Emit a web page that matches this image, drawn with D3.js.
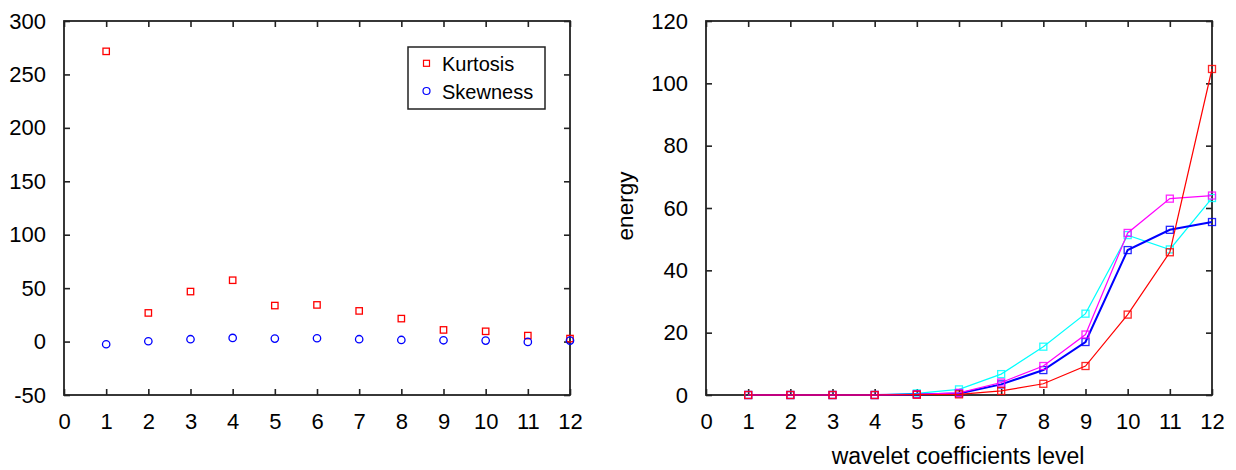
<!DOCTYPE html>
<html>
<head>
<meta charset="utf-8">
<script src="https://cdn.jsdelivr.net/npm/d3@7"></script>
<style>
  body { margin: 0; background: #fff; }
  svg text { font-family: "Liberation Sans", Arial, sans-serif; fill: #000; }
</style>
</head>
<body>
<div id="chart"></div>
<script>
// levels on the x axis
const levels = [1, 2, 3, 4, 5, 6, 7, 8, 9, 10, 11, 12];

// left panel: kurtosis and skewness per level
const kurtosis = [271.6, 26.8, 46.8, 57.4, 33.7, 34.3, 28.7, 21.5, 10.9, 9.6, 5.6, 2.8];
const skewness = [-2.5, 0.3, 2.2, 3.4, 2.8, 3.1, 2.2, 1.5, 1.2, 0.9, -0.3, 0.9];

// right panel: energy per level, four series
const energyCyan    = [0, 0, 0, 0, 0.5, 1.8, 6.7, 15.5, 26.1, 51.3, 46.7, 63.2];
const energyBlue    = [0, 0, 0, 0, 0.2, 0.5, 3.4, 8.0, 17.0, 46.5, 53.0, 55.5];
const energyMagenta = [0, 0, 0, 0, 0.2, 0.7, 4.0, 9.3, 19.4, 52.0, 63.0, 64.0];
const energyRed     = [0, 0, 0, 0, 0.1, 0.2, 1.3, 3.6, 9.3, 25.8, 45.8, 104.6];

const leftTicksY = [-50, 0, 50, 100, 150, 200, 250, 300];
const rightTicksY = [0, 20, 40, 60, 80, 100, 120];
const ticksX = d3.range(0, 13);

const W = 1236, H = 470;
const svg = d3.select("#chart").append("svg")
    .attr("width", W)
    .attr("height", H);

svg.append("rect").attr("width", W).attr("height", H).attr("fill", "#fff");

const tickFont = 22;
const frameColor = "#222";

// draws the boxed frame with inward ticks on all four sides
function frame(g, x, y, yTicks, w, h) {
  g.append("g")
      .call(d3.axisLeft(y).tickValues(yTicks).tickSize(-6).tickPadding(18)
        .tickSizeOuter(0).tickFormat(d => String(d)));
  g.append("g")
      .attr("transform", `translate(0,${h})`)
      .call(d3.axisBottom(x).tickValues(ticksX).tickSize(-6).tickPadding(18)
        .tickSizeOuter(0).tickFormat(d => String(d)));
  g.append("g")
      .call(d3.axisTop(x).tickValues(ticksX).tickSize(-6).tickFormat("").tickSizeOuter(0));
  g.append("g")
      .attr("transform", `translate(${w},0)`)
      .call(d3.axisRight(y).tickValues(yTicks).tickSize(-6).tickFormat("").tickSizeOuter(0));

  g.selectAll(".domain").remove();
  g.selectAll(".tick line").attr("stroke", frameColor).attr("stroke-width", 1.6);
  g.selectAll(".tick text")
      .attr("font-size", tickFont)
      .attr("font-family", "Liberation Sans, Arial, sans-serif")
      .attr("fill", "#000");

  g.append("rect")
      .attr("width", w).attr("height", h)
      .attr("fill", "none")
      .attr("stroke", frameColor)
      .attr("stroke-width", 1.8);
}

// ---------------- left panel ----------------
const m1 = {left: 64, top: 21, right: 570, bottom: 395};
const w1 = m1.right - m1.left, h1 = m1.bottom - m1.top;
const x1 = d3.scaleLinear().domain([0, 12]).range([0, w1]);
const y1 = d3.scaleLinear().domain([-50, 300]).range([h1, 0]);

const g1 = svg.append("g").attr("transform", `translate(${m1.left},${m1.top})`);
frame(g1, x1, y1, leftTicksY, w1, h1);

const sq1 = 6.4;
g1.selectAll(".kurt")
  .data(levels)
  .enter().append("rect")
    .attr("class", "kurt")
    .attr("x", (d, i) => x1(d) - sq1 / 2)
    .attr("y", (d, i) => y1(kurtosis[i]) - sq1 / 2)
    .attr("width", sq1).attr("height", sq1)
    .attr("fill", "none").attr("stroke", "#ff0000").attr("stroke-width", 1.3);

g1.selectAll(".skew")
  .data(levels)
  .enter().append("circle")
    .attr("class", "skew")
    .attr("cx", d => x1(d))
    .attr("cy", (d, i) => y1(skewness[i]))
    .attr("r", 3.7)
    .attr("fill", "none").attr("stroke", "#0000ff").attr("stroke-width", 1.3);

// legend
const lg = svg.append("g").attr("transform", "translate(408,47)");
lg.append("rect")
    .attr("width", 137).attr("height", 62)
    .attr("fill", "#fff").attr("stroke", frameColor).attr("stroke-width", 1.5);
lg.append("rect")
    .attr("x", 18.5 - 3).attr("y", 16.3 - 3).attr("width", 6).attr("height", 6)
    .attr("fill", "none").attr("stroke", "#ff0000").attr("stroke-width", 1.2);
lg.append("circle")
    .attr("cx", 18.5).attr("cy", 44).attr("r", 3.5)
    .attr("fill", "none").attr("stroke", "#0000ff").attr("stroke-width", 1.2);
lg.append("text").attr("x", 34).attr("y", 24).attr("font-size", 20).text("Kurtosis");
lg.append("text").attr("x", 34).attr("y", 52).attr("font-size", 20).text("Skewness");

// ---------------- right panel ----------------
const m2 = {left: 706, top: 21, right: 1212, bottom: 395};
const w2 = m2.right - m2.left, h2 = m2.bottom - m2.top;
const x2 = d3.scaleLinear().domain([0, 12]).range([0, w2]);
const y2 = d3.scaleLinear().domain([0, 120]).range([h2, 0]);

const g2 = svg.append("g").attr("transform", `translate(${m2.left},${m2.top})`);
frame(g2, x2, y2, rightTicksY, w2, h2);

const series = [
  {name: "cyan", color: "#00ffff", values: energyCyan, width: 1.2},
  {name: "blue", color: "#0000ff", values: energyBlue, width: 2},
  {name: "magenta", color: "#ff00ff", values: energyMagenta, width: 1.2},
  {name: "red", color: "#ff0000", values: energyRed, width: 1.2}
];

const line = d3.line()
    .x(d => x2(d[0]))
    .y(d => y2(d[1]));

const sq2 = 7;
series.forEach(function(s) {
  const pts = levels.map((l, i) => [l, s.values[i]]);
  g2.append("path")
      .datum(pts)
      .attr("d", line)
      .attr("fill", "none")
      .attr("stroke", s.color)
      .attr("stroke-width", s.width);
  g2.selectAll(".pt-" + s.name)
    .data(pts)
    .enter().append("rect")
      .attr("class", "pt-" + s.name)
      .attr("x", d => x2(d[0]) - sq2 / 2)
      .attr("y", d => y2(d[1]) - sq2 / 2)
      .attr("width", sq2).attr("height", sq2)
      .attr("fill", "none")
      .attr("stroke", s.color)
      .attr("stroke-width", 1.3)
      .attr("stroke-opacity", 0.85);
});

// axis titles
svg.append("text")
    .attr("x", 958)
    .attr("y", 464)
    .attr("text-anchor", "middle")
    .attr("font-size", 23)
    .text("wavelet coefficients level");

svg.append("text")
    .attr("transform", "translate(633,206) rotate(-90)")
    .attr("text-anchor", "middle")
    .attr("font-size", 22.5)
    .text("energy");
</script>
</body>
</html>
